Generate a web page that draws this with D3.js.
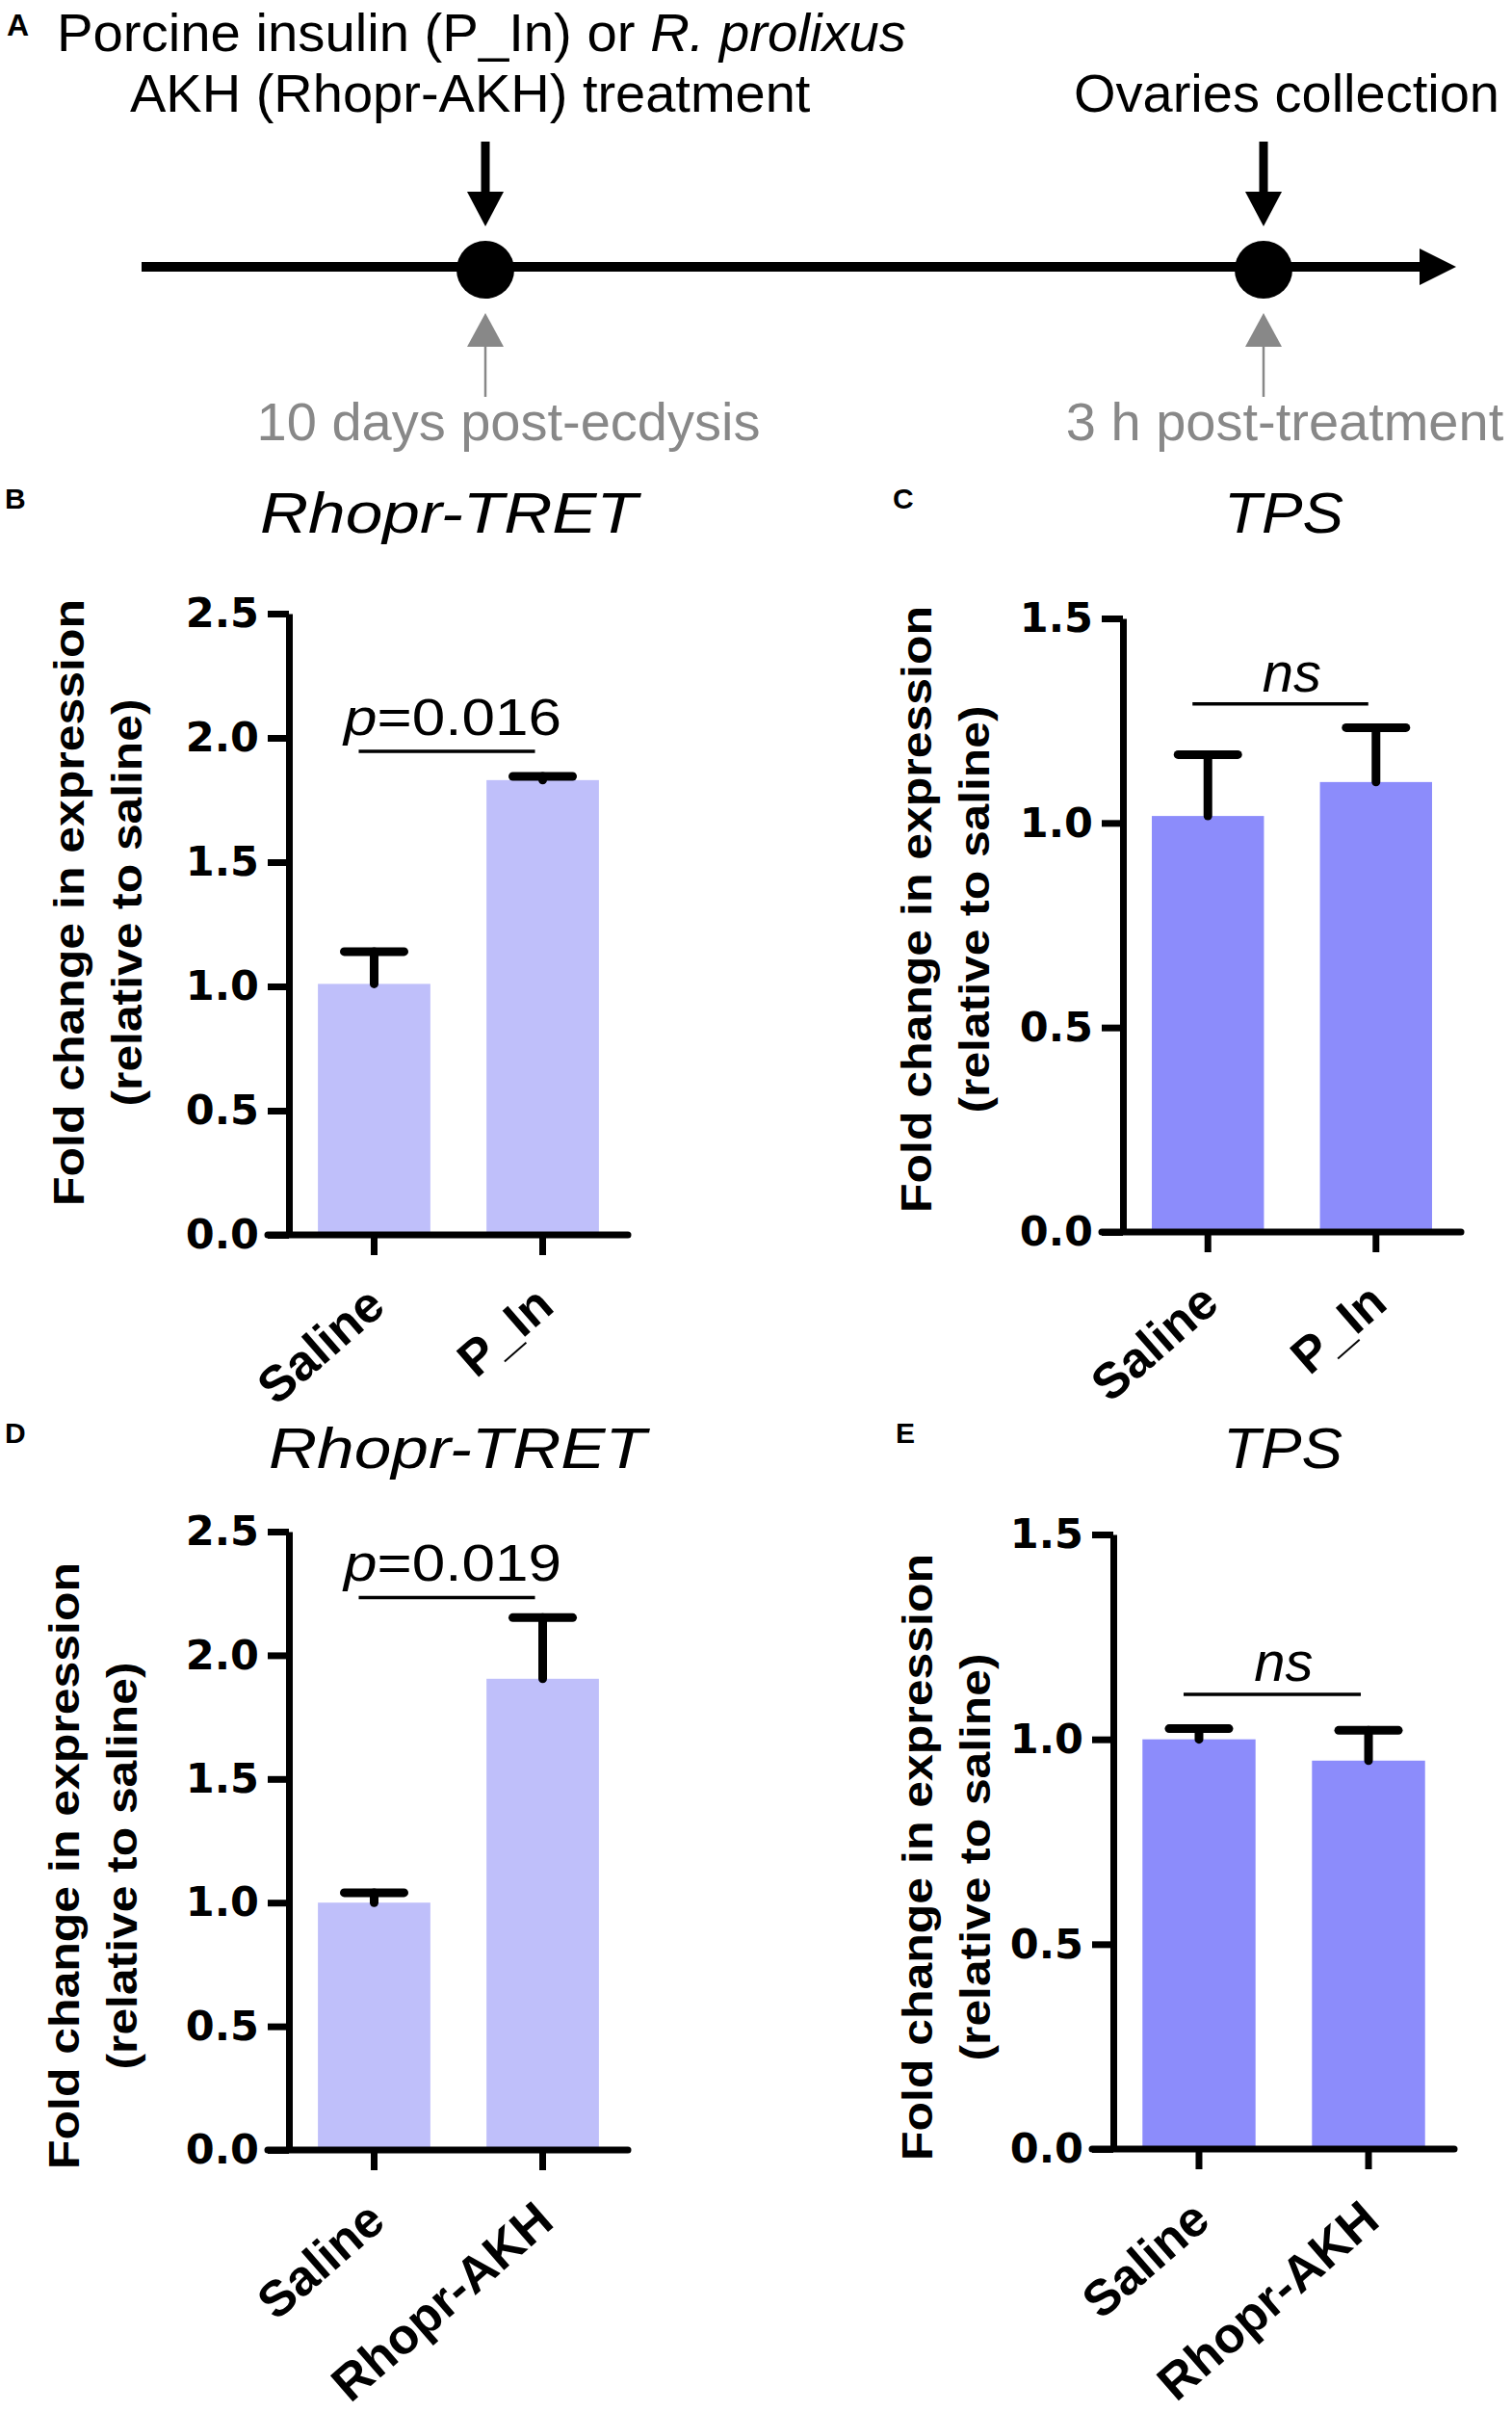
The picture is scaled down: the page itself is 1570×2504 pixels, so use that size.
<!DOCTYPE html>
<html>
<head>
<meta charset="utf-8">
<script src="https://cdn.jsdelivr.net/npm/d3@7"></script>
<style>
  body { margin: 0; background: #fff; }
  svg { display: block; font-family: "Liberation Sans", Arial, sans-serif; }
</style>
</head>
<body>
<div id="figure"></div>
<script>
(function () {
  "use strict";

  // values
  const groupsB = ["Saline", "P_In"];
  const meanB = [1.01, 1.83];
  const semB = [0.13, 0.015];

  const groupsC = ["Saline", "P_In"];
  const meanC = [1.017, 1.10];
  const semC = [0.15, 0.133];

  const groupsD = ["Saline", "Rhopr-AKH"];
  const meanD = [1.00, 1.905];
  const semD = [0.04, 0.247];

  const groupsE = ["Saline", "Rhopr-AKH"];
  const meanE = [1.00, 0.948];
  const semE = [0.026, 0.074];

  const yTicksTRET = [0, 0.5, 1.0, 1.5, 2.0, 2.5];
  const yTicksTPS = [0, 0.5, 1.0, 1.5];

  const W = 1570, H = 2504;
  const svg = d3.select("#figure").append("svg")
    .attr("width", W).attr("height", H);
  svg.append("rect").attr("width", W).attr("height", H).attr("fill", "#fff");

  // ---------- panel A : timeline sketch ----------
  let a = svg.append("g");
  a.append("text").attr("x", 7).attr("y", 37)
    .attr("font-size", 32).attr("font-weight", "bold").text("A");

  let l1 = a.append("text").attr("x", 59).attr("y", 53).attr("font-size", 56)
    .attr("textLength", 882).attr("lengthAdjust", "spacingAndGlyphs");
  l1.append("tspan").text("Porcine insulin (P_In) or ");
  l1.append("tspan").attr("font-style", "italic").text("R. prolixus");
  a.append("text").attr("x", 135).attr("y", 116).attr("font-size", 56)
    .text("AKH (Rhopr-AKH) treatment");
  a.append("text").attr("x", 1115).attr("y", 116).attr("font-size", 56)
    .text("Ovaries collection");

  let lineY = 277;
  a.append("line").attr("x1", 147).attr("x2", 1480)
    .attr("y1", lineY).attr("y2", lineY)
    .attr("stroke", "#000").attr("stroke-width", 10);
  a.append("path")
    .attr("d", `M1474,${lineY - 19}L1512,${lineY}L1474,${lineY + 19}Z`)
    .attr("fill", "#000");

  [[504, "10 days post-ecdysis"], [1312, "3 h post-treatment"]].forEach(function (ev, i) {
    let cx = ev[0];
    a.append("circle").attr("cx", cx).attr("cy", 280).attr("r", 30).attr("fill", "#000");
    // black arrow from above
    a.append("line").attr("x1", cx).attr("x2", cx).attr("y1", 147).attr("y2", 202)
      .attr("stroke", "#000").attr("stroke-width", 9);
    a.append("path").attr("d", `M${cx - 19},199L${cx + 19},199L${cx},235Z`).attr("fill", "#000");
    // grey arrow from below
    a.append("line").attr("x1", cx).attr("x2", cx).attr("y1", 358).attr("y2", 412)
      .attr("stroke", "#888").attr("stroke-width", 2.5);
    a.append("path").attr("d", `M${cx - 19},360L${cx + 19},360L${cx},325Z`).attr("fill", "#888");
    a.append("text").attr("x", i === 0 ? 528 : 1334).attr("y", 457)
      .attr("text-anchor", "middle").attr("font-size", 56).attr("fill", "#888")
      .text(ev[1]);
  });

  // ---------- bar panels ----------
  function barPanel(cfg) {
    let g = svg.append("g");
    let x = d3.scaleBand().domain(cfg.groups).range([cfg.x0, cfg.x1])
      .paddingInner(0.333).paddingOuter(0.172);
    let y = d3.scaleLinear().domain([0, cfg.max]).range([cfg.yBottom, cfg.yTop]);
    let bw = x.bandwidth();

    g.append("text").attr("x", cfg.letter[0]).attr("y", cfg.letter[1])
      .attr("font-size", 30).attr("font-weight", "bold").text(cfg.letterText);

    g.append("text").attr("x", cfg.titleX).attr("y", cfg.titleY)
      .attr("text-anchor", "middle").attr("font-size", 60).attr("font-style", "italic")
      .attr("textLength", cfg.titleLen).attr("lengthAdjust", "spacingAndGlyphs")
      .text(cfg.title);

    // y-axis title
    let yt = g.append("g")
      .attr("transform", `translate(0,${cfg.yTitleMid}) rotate(-90)`)
      .attr("font-size", 44).attr("font-weight", "bold").attr("text-anchor", "middle");
    yt.append("text").attr("x", 0).attr("y", cfg.yTitleX[0])
      .attr("textLength", 630).attr("lengthAdjust", "spacingAndGlyphs")
      .text("Fold change in expression");
    yt.append("text").attr("x", 0).attr("y", cfg.yTitleX[1])
      .attr("textLength", 423).attr("lengthAdjust", "spacingAndGlyphs")
      .text("(relative to saline)");

    // bars
    g.selectAll("rect.bar").data(cfg.groups).enter().append("rect")
      .attr("class", "bar")
      .attr("x", function (d) { return x(d); })
      .attr("width", bw)
      .attr("y", function (d, i) { return y(cfg.mean[i]); })
      .attr("height", function (d, i) { return y(0) - y(cfg.mean[i]); })
      .attr("fill", cfg.color);

    // upper error bars
    let eb = g.selectAll("g.err").data(cfg.groups).enter().append("g").attr("class", "err");
    eb.append("line")
      .attr("x1", function (d) { return x(d) + bw / 2; })
      .attr("x2", function (d) { return x(d) + bw / 2; })
      .attr("y1", function (d, i) { return y(cfg.mean[i]); })
      .attr("y2", function (d, i) { return y(cfg.mean[i] + cfg.sem[i]); })
      .attr("stroke", "#000").attr("stroke-width", 9).attr("stroke-linecap", "round");
    eb.append("line")
      .attr("x1", function (d) { return x(d) + bw / 2 - 31; })
      .attr("x2", function (d) { return x(d) + bw / 2 + 31; })
      .attr("y1", function (d, i) { return y(cfg.mean[i] + cfg.sem[i]); })
      .attr("y2", function (d, i) { return y(cfg.mean[i] + cfg.sem[i]); })
      .attr("stroke", "#000").attr("stroke-width", 9).attr("stroke-linecap", "round");

    // y axis
    let ya = g.append("g").attr("transform", `translate(${cfg.x0},0)`)
      .call(d3.axisLeft(y).tickValues(cfg.ticks).tickFormat(d3.format(".1f"))
        .tickSize(22).tickSizeOuter(0).tickPadding(9));
    ya.select(".domain").attr("stroke-width", 7);
    ya.selectAll(".tick line").attr("stroke-width", 7);
    ya.selectAll(".tick text").attr("font-size", 43).attr("font-weight", "bold")
      .attr("font-family", "\"DejaVu Sans\", sans-serif").attr("fill", "#000");

    // x axis
    let xa = g.append("g").attr("transform", `translate(0,${cfg.yBottom})`)
      .call(d3.axisBottom(x).tickSize(21).tickSizeOuter(0).tickFormat(""));
    xa.select(".domain").remove();
    xa.selectAll(".tick line").attr("stroke-width", 7);
    g.append("line").attr("x1", cfg.x0 - 22).attr("x2", cfg.x1)
      .attr("y1", cfg.yBottom).attr("y2", cfg.yBottom)
      .attr("stroke", "#000").attr("stroke-width", 7).attr("stroke-linecap", "round");

    g.selectAll("text.xl").data(cfg.groups).enter().append("text")
      .attr("class", "xl")
      .attr("transform", function (d) {
        return `translate(${x(d) + bw / 2 + 2},${cfg.yBottom + 64}) rotate(-41)`;
      })
      .attr("text-anchor", "end").attr("dy", "0.35em")
      .attr("font-size", 52).attr("font-weight", "bold")
      .text(function (d) { return d; });

    // significance bracket
    let sx0 = x(cfg.groups[0]) + bw / 2 - 16;
    let sx1 = x(cfg.groups[1]) + bw / 2 - 8;
    let sy = y(cfg.sigLevel);
    g.append("line").attr("x1", sx0).attr("x2", sx1).attr("y1", sy).attr("y2", sy)
      .attr("stroke", "#000").attr("stroke-width", 3.5);
    let st = g.append("text").attr("x", (sx0 + sx1) / 2 + cfg.sigShift).attr("y", sy - cfg.sigGap)
      .attr("text-anchor", "middle");
    if (cfg.sig === "ns") {
      st.attr("font-size", 58).attr("font-style", "italic").text("ns");
    } else {
      st.attr("font-size", 54).attr("textLength", 226).attr("lengthAdjust", "spacingAndGlyphs");
      st.append("tspan").attr("font-style", "italic").text("p");
      st.append("tspan").text(cfg.sig);
    }
  }

  barPanel({
    letterText: "B", letter: [5, 528], title: "Rhopr-TRET", titleX: 466, titleY: 553, titleLen: 392,
    groups: groupsB, mean: meanB, sem: semB, color: "#bfbffa",
    x0: 300, x1: 652, yTop: 637, yBottom: 1282, max: 2.5, ticks: yTicksTRET,
    yTitleX: [87, 147], yTitleMid: 937,
    sigLevel: 1.946, sigGap: 17, sigShift: 6, sig: "=0.016"
  });
  barPanel({
    letterText: "C", letter: [927, 528], title: "TPS", titleX: 1333, titleY: 553, titleLen: 124,
    groups: groupsC, mean: meanC, sem: semC, color: "#8c8cfb",
    x0: 1166, x1: 1517, yTop: 642, yBottom: 1279, max: 1.5, ticks: yTicksTPS,
    yTitleX: [967, 1027], yTitleMid: 944,
    sigLevel: 1.291, sigGap: 13, sigShift: 12, sig: "ns"
  });
  barPanel({
    letterText: "D", letter: [5, 1498], title: "Rhopr-TRET", titleX: 475, titleY: 1524, titleLen: 392,
    groups: groupsD, mean: meanD, sem: semD, color: "#bfbffa",
    x0: 300, x1: 652, yTop: 1590, yBottom: 2232, max: 2.5, ticks: yTicksTRET,
    yTitleX: [82, 142], yTitleMid: 1937,
    sigLevel: 2.233, sigGap: 18, sigShift: 6, sig: "=0.019"
  });
  barPanel({
    letterText: "E", letter: [930, 1498], title: "TPS", titleX: 1332, titleY: 1524, titleLen: 124,
    groups: groupsE, mean: meanE, sem: semE, color: "#8c8cfb",
    x0: 1156, x1: 1510, yTop: 1593, yBottom: 2231, max: 1.5, ticks: yTicksTPS,
    yTitleX: [968, 1028], yTitleMid: 1928,
    sigLevel: 1.110, sigGap: 14, sigShift: 12, sig: "ns"
  });
}());
</script>
</body>
</html>
